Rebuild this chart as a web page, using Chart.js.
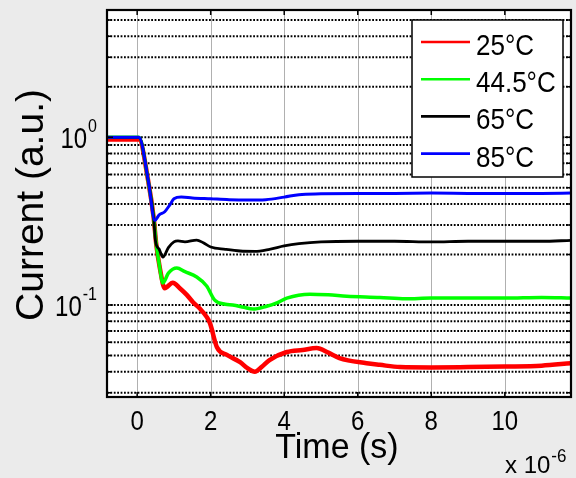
<!DOCTYPE html>
<html><head><meta charset="utf-8">
<script src="https://cdn.jsdelivr.net/npm/chart.js@4"></script>
<style>
html,body{margin:0;padding:0;background:#ebebeb;}
#wrap{width:576px;height:478px;position:relative;}
canvas{display:block;}
</style></head><body>
<div id="wrap"><canvas id="c" width="576" height="478"></canvas></div>
<script>
// ---- data (time in microseconds, current in a.u.) ----
const seriesLabels = ['25°C', '44.5°C', '65°C', '85°C'];
const seriesColors = ['#ff0000', '#00ff00', '#000000', '#0000ff'];

const time25 = [-0.82, 0.05, 0.3, 0.45, 0.52, 0.62, 0.75, 0.97, 1.16, 1.35, 1.52, 1.71, 1.89, 1.98, 2.17, 2.44, 2.8, 3.0, 3.2, 3.4, 3.6, 4.07, 4.5, 4.88, 5.2, 5.5, 6.24, 6.6, 7.15, 8, 9, 10, 11, 11.8];
const current25 = [0.97, 0.97, 0.55, 0.33, 0.23, 0.165, 0.126, 0.136, 0.126, 0.115, 0.104, 0.095, 0.085, 0.078, 0.056, 0.0504, 0.0457, 0.042, 0.040, 0.043, 0.047, 0.0525, 0.054, 0.0554, 0.052, 0.0483, 0.045, 0.044, 0.0427, 0.0425, 0.0427, 0.043, 0.0435, 0.045];

const time44 = [-0.82, 0.05, 0.3, 0.45, 0.52, 0.6, 0.7, 0.85, 1.08, 1.3, 1.62, 1.89, 2.11, 2.4, 2.6, 2.9, 3.15, 3.5, 3.8, 4.07, 4.7, 5.2, 5.7, 6.6, 7.3, 8, 9, 10, 11, 11.8];
const current44 = [1.0, 1.0, 0.55, 0.33, 0.23, 0.175, 0.1355, 0.155, 0.166, 0.158, 0.147, 0.13, 0.107, 0.101, 0.1, 0.097, 0.0946, 0.098, 0.103, 0.110, 0.116, 0.115, 0.113, 0.111, 0.109, 0.11, 0.11, 0.11, 0.111, 0.11];

const time65 = [-0.82, 0.05, 0.3, 0.45, 0.5, 0.6, 0.7, 0.85, 1.0, 1.11, 1.3, 1.62, 1.8, 2.0, 2.4, 2.8, 3.2, 3.6, 4.0, 4.4, 5, 6, 7, 8, 9, 10, 11, 11.8];
const current65 = [1.0, 1.0, 0.55, 0.33, 0.24, 0.215, 0.193, 0.22, 0.238, 0.241, 0.238, 0.244, 0.235, 0.222, 0.215, 0.21, 0.209, 0.215, 0.225, 0.232, 0.238, 0.24, 0.24, 0.238, 0.24, 0.24, 0.24, 0.243];

const time85 = [-0.82, 0.05, 0.3, 0.48, 0.6, 0.75, 0.89, 1.0, 1.2, 1.5, 2.0, 2.5, 3.0, 3.5, 4.0, 4.4, 5.0, 6, 7, 8, 9, 10, 11, 11.8];
const current85 = [1.0, 1.0, 0.556, 0.32, 0.345, 0.36, 0.396, 0.43, 0.44, 0.435, 0.43, 0.425, 0.423, 0.425, 0.44, 0.455, 0.46, 0.463, 0.463, 0.465, 0.463, 0.462, 0.463, 0.465];

const xTickValues = [0, 2, 4, 6, 8, 10];
const xTickLabels = ['0', '2', '4', '6', '8', '10'];
const yMajorValues = [0.1, 1];
const yMajorExponents = ['-1', '0'];
const yGridValues = [0.03, 0.04, 0.05, 0.06, 0.07, 0.08, 0.09, 0.1, 0.2, 0.3, 0.4, 0.5, 0.6, 0.7, 0.8, 0.9, 1, 2, 3, 4, 5];
const xAxisTitle = 'Time (s)';
const yAxisTitle = 'Current (a.u.)';
const xMultiplierBase = 'x 10';
const xMultiplierExp = '-6';

const FONT = '"Liberation Sans", Arial, Helvetica, sans-serif';

function pts(t, v) { return t.map((x, i) => ({x: x, y: v[i]})); }

const datasets = [
  {label: seriesLabels[0], data: pts(time25, current25), borderColor: seriesColors[0], borderWidth: 4.5, order: 4},
  {label: seriesLabels[1], data: pts(time44, current44), borderColor: seriesColors[1], borderWidth: 3.5, order: 3},
  {label: seriesLabels[2], data: pts(time65, current65), borderColor: seriesColors[2], borderWidth: 2.8, order: 2},
  {label: seriesLabels[3], data: pts(time85, current85), borderColor: seriesColors[3], borderWidth: 3, order: 1}
].map(d => Object.assign(d, {pointRadius: 0, cubicInterpolationMode: 'monotone', fill: false, borderJoinStyle: 'round', borderCapStyle: 'round'}));

function txt(ctx, s, x, y, size, sy, align) {
  ctx.save();
  ctx.translate(x, y);
  ctx.scale(1, sy);
  ctx.font = size + 'px ' + FONT;
  ctx.textAlign = align;
  ctx.textBaseline = 'alphabetic';
  ctx.fillText(s, 0, 0);
  const w = ctx.measureText(s).width;
  ctx.restore();
  return w;
}

const decorPlugin = {
  id: 'decor',
  beforeDatasetsDraw(chart) {
    const {ctx, chartArea: a, scales: {x, y}} = chart;
    ctx.save();
    ctx.fillStyle = '#ffffff';
    ctx.fillRect(a.left, a.top, a.right - a.left, a.bottom - a.top);
    ctx.strokeStyle = '#b0b0b0';
    ctx.lineWidth = 1;
    xTickValues.forEach(v => {
      const px = Math.round(x.getPixelForValue(v)) + 0.5;
      ctx.beginPath(); ctx.moveTo(px, a.top); ctx.lineTo(px, a.bottom); ctx.stroke();
    });
    ctx.strokeStyle = '#000000';
    ctx.lineWidth = 1.9;
    ctx.setLineDash([1.8, 1.6]);
    yGridValues.forEach(v => {
      const py = y.getPixelForValue(v);
      ctx.beginPath(); ctx.moveTo(a.left, py); ctx.lineTo(a.right, py); ctx.stroke();
    });
    ctx.restore();
  },
  afterDatasetsDraw(chart) {
    const {ctx, chartArea: a, scales: {x, y}} = chart;
    ctx.save();
    ctx.strokeStyle = '#000'; ctx.lineWidth = 1.5;
    xTickValues.forEach(v => {
      const px = x.getPixelForValue(v);
      ctx.beginPath();
      ctx.moveTo(px, a.bottom); ctx.lineTo(px, a.bottom - 5);
      ctx.moveTo(px, a.top); ctx.lineTo(px, a.top + 5);
      ctx.stroke();
    });
    yGridValues.forEach(v => {
      const py = y.getPixelForValue(v);
      const len = yMajorValues.includes(v) ? 6 : 4;
      ctx.beginPath();
      ctx.moveTo(a.left, py); ctx.lineTo(a.left + len, py);
      ctx.moveTo(a.right, py); ctx.lineTo(a.right - len, py);
      ctx.stroke();
    });
    ctx.lineWidth = 2.2;
    ctx.strokeRect(a.left, a.top, a.right - a.left, a.bottom - a.top);

    // legend
    const lx = 412, ly = 20, lw = 151, lh = 157;
    ctx.fillStyle = '#fff';
    ctx.fillRect(lx, ly, lw, lh);
    ctx.lineWidth = 1.5; ctx.strokeStyle = '#000';
    ctx.strokeRect(lx, ly, lw, lh);
    chart.data.datasets.forEach((d, i) => {
      const base = 55 + i * 37.2;
      const lineY = base - 13;
      ctx.strokeStyle = d.borderColor; ctx.lineWidth = 2.6;
      ctx.beginPath(); ctx.moveTo(421, lineY); ctx.lineTo(470, lineY); ctx.stroke();
      ctx.fillStyle = '#000';
      txt(ctx, d.label, 476, base, 26, 1.15, 'left');
    });

    ctx.fillStyle = '#000';
    xTickValues.forEach((v, i) => {
      txt(ctx, xTickLabels[i], x.getPixelForValue(v), 430, 24, 1.18, 'center');
    });
    yMajorValues.forEach((v, i) => {
      const py = y.getPixelForValue(v);
      const ew = txt(ctx, yMajorExponents[i], 97, py - 5.5, 16, 1.2, 'right');
      txt(ctx, '10', 97 - ew - 1, py + 11, 24, 1.25, 'right');
    });
    const bw = txt(ctx, xMultiplierBase, 505, 473, 24, 1.0, 'left');
    txt(ctx, xMultiplierExp, 505 + bw + 1, 462, 17, 1.05, 'left');
    txt(ctx, xAxisTitle, 337, 458, 34, 1.03, 'center');
    ctx.save();
    ctx.translate(43, 205);
    ctx.rotate(-Math.PI / 2);
    ctx.font = '39px ' + FONT;
    ctx.textAlign = 'center';
    ctx.fillText(yAxisTitle, 0, 0);
    ctx.restore();
    ctx.restore();
  }
};

new Chart(document.getElementById('c'), {
  type: 'line',
  data: {datasets: datasets},
  options: {
    responsive: false,
    animation: false,
    devicePixelRatio: 1,
    layout: {padding: {top: 10, right: 5, left: 0, bottom: 0}},
    plugins: {legend: {display: false}, tooltip: {enabled: false}, title: {display: false}},
    scales: {
      x: {
        type: 'linear', min: -0.82, max: 11.8,
        afterBuildTicks: s => { s.ticks = xTickValues.map(v => ({value: v})); },
        afterFit: s => { s.height = 81; },
        grid: {display: false}, border: {display: false},
        ticks: {display: false}
      },
      y: {
        type: 'logarithmic', min: 0.0283, max: 5.74,
        afterBuildTicks: s => { s.ticks = yGridValues.map(v => ({value: v})); },
        afterFit: s => { s.width = 107; },
        grid: {display: false}, border: {display: false},
        ticks: {display: false}
      }
    }
  },
  plugins: [decorPlugin]
});
</script>
</body></html>
